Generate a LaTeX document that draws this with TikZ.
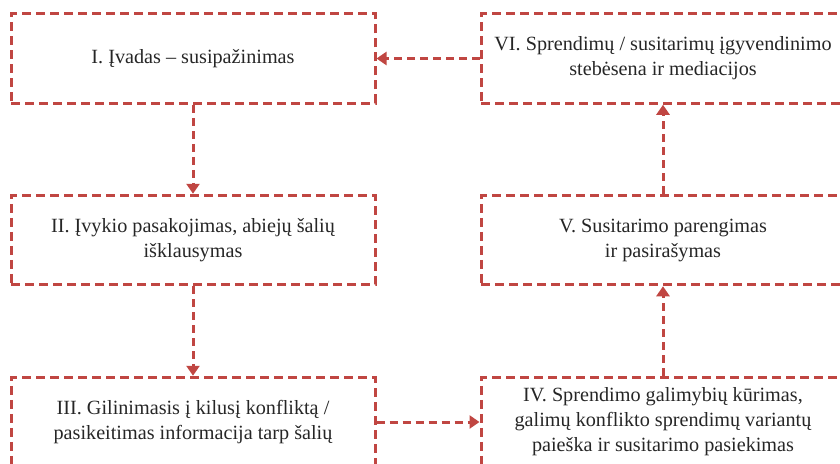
\documentclass[tikz,border=0pt]{standalone}
\usepackage{fontspec}
\setmainfont{Liberation Serif}
\usetikzlibrary{arrows.meta}
\definecolor{stepred}{RGB}{192,70,66}
\begin{document}
\begin{tikzpicture}[x=1pt,y=-1pt,
  stagebox/.style={draw=stepred, line width=3pt, dash pattern=on 9pt off 5pt,
    minimum width=364pt, minimum height=89.5pt, inner sep=0pt, align=center,
    font=\fontsize{20.2pt}{25pt}\selectfont, text=black!85},
  flow/.style={draw=stepred, line width=3pt, dash pattern=on 8pt off 5pt,
    -{Triangle[width=13pt,length=10pt]}}]
  \useasboundingbox (0,0) rectangle (840,463);
  \clip (0,0) rectangle (840,463);
  % left column
  \node[stagebox] (s1) at (193,58.5) {I. Įvadas – susipažinimas};
  \node[stagebox] (s2) at (193,240) {II. Įvykio pasakojimas, abiejų šalių\\išklausymas};
  \node[stagebox] (s3) at (193,422) {III. Gilinimasis į kilusį konfliktą /\\pasikeitimas informacija tarp šalių};
  % right column
  \node[stagebox] (s6) at (663,58.5) {VI. Sprendimų / susitarimų įgyvendinimo\\stebėsena ir mediacijos};
  \node[stagebox] (s5) at (663,240) {V. Susitarimo parengimas\\ir pasirašymas};
  \node[stagebox] (s4) at (663,422) {IV. Sprendimo galimybių kūrimas,\\galimų konflikto sprendimų variantų\\paieška ir susitarimo pasiekimas};
  % process flow
  \draw[flow] (s1.south) -- (s2.north);
  \draw[flow] (s2.south) -- (s3.north);
  \draw[flow] (s3.east) -- (s4.west);
  \draw[flow] (s4.north) -- (s5.south);
  \draw[flow] (s5.north) -- (s6.south);
  \draw[flow] (s6.west) -- (s1.east);
\end{tikzpicture}
\end{document}
